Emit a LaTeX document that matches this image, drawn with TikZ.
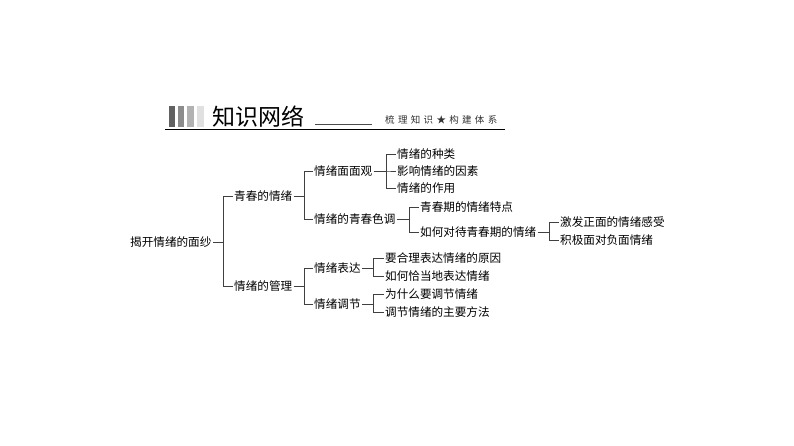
\documentclass[tikz,border=0pt]{standalone}
\usepackage{fontspec}
\setmainfont{Noto Sans CJK SC}
\newfontfamily\cjkfont{Noto Sans CJK SC}
\newfontfamily\cjkspaced[LetterSpace=35]{Noto Sans CJK SC}
\usetikzlibrary{positioning,calc}
\tikzset{
  mapfont/.style={font=\fontsize{11.6}{13}\cjkfont},
  mapnode/.style={mapfont, anchor=west, inner sep=1.5pt},
  mapline/.style={line width=0.5pt, black!75},
  headbar/.style={draw=none},
}

\begin{document}
\begin{tikzpicture}[x=1pt, y=-1pt]
  \useasboundingbox (0,0) rectangle (794,446);

  % Header
  \fill[headbar, black!62] (169,106) rectangle (175,127);
  \fill[headbar, black!45] (178,106) rectangle (184,127);
  \fill[headbar, black!30] (187,106) rectangle (194,127);
  \fill[headbar, black!12] (197,106) rectangle (204,127);
  \node[anchor=west, inner sep=0pt, font=\fontsize{23}{25}\cjkfont] (title) at (212,117) {知识网络};
  \draw[black!70, line width=0.6pt] (315,124) -- (372,124);
  \node[anchor=west, inner sep=0pt, font=\fontsize{9.5}{10}\cjkspaced, black!80] (subtitle) at (385,120) {梳理知识★构建体系};
  \draw[line width=0.8pt] (165,129) -- (505,129);

  % Root and first level
  \node[mapnode] (root) at (128.5,242) {揭开情绪的面纱};
  \node[mapnode] (qing) at (232.5,196) {青春的情绪};
  \node[mapnode] (guan) at (232.5,286) {情绪的管理};

  % Second level
  \node[mapnode] (mian) at (312.5,171) {情绪面面观};
  \node[mapnode] (sediao) at (312.5,219) {情绪的青春色调};
  \node[mapnode] (biaoda) at (312.5,268) {情绪表达};
  \node[mapnode] (tiaojie) at (312.5,304) {情绪调节};

  % Third level
  \node[mapnode] (zhonglei) at (395.5,154) {情绪的种类};
  \node[mapnode] (yinsu) at (395.5,171) {影响情绪的因素};
  \node[mapnode] (zuoyong) at (395.5,188) {情绪的作用};
  \node[mapnode] (tedian) at (418.5,207) {青春期的情绪特点};
  \node[mapnode] (duidai) at (418.5,232) {如何对待青春期的情绪};
  \node[mapnode] (yuanyin) at (383.5,258) {要合理表达情绪的原因};
  \node[mapnode] (qiadang) at (383.5,276) {如何恰当地表达情绪};
  \node[mapnode] (weishen) at (383.5,294) {为什么要调节情绪};
  \node[mapnode] (fangfa) at (383.5,312) {调节情绪的主要方法};

  % Fourth level
  \node[mapnode] (jifa) at (558.5,222) {激发正面的情绪感受};
  \node[mapnode] (fumian) at (558.5,240) {积极面对负面情绪};

  % Connectors
  \draw[mapline] (root.east) -- ++(10,0) |- (qing.west);
  \draw[mapline] (root.east) -- ++(10,0) |- (guan.west);
  \draw[mapline] (qing.east) -- ++(10,0) |- (mian.west);
  \draw[mapline] (qing.east) -- ++(10,0) |- (sediao.west);
  \draw[mapline] (guan.east) -- ++(10,0) |- (biaoda.west);
  \draw[mapline] (guan.east) -- ++(10,0) |- (tiaojie.west);
  \draw[mapline] (mian.east) -- ++(12,0) |- (zhonglei.west);
  \draw[mapline] (mian.east) -- ++(12,0) |- (yinsu.west);
  \draw[mapline] (mian.east) -- ++(12,0) |- (zuoyong.west);
  \draw[mapline] (sediao.east) -- ++(12,0) |- (tedian.west);
  \draw[mapline] (sediao.east) -- ++(12,0) |- (duidai.west);
  \draw[mapline] (biaoda.east) -- ++(11,0) |- (yuanyin.west);
  \draw[mapline] (biaoda.east) -- ++(11,0) |- (qiadang.west);
  \draw[mapline] (tiaojie.east) -- ++(11,0) |- (weishen.west);
  \draw[mapline] (tiaojie.east) -- ++(11,0) |- (fangfa.west);
  \draw[mapline] (duidai.east) -- ++(11,0) |- (jifa.west);
  \draw[mapline] (duidai.east) -- ++(11,0) |- (fumian.west);
\end{tikzpicture}
\end{document}
